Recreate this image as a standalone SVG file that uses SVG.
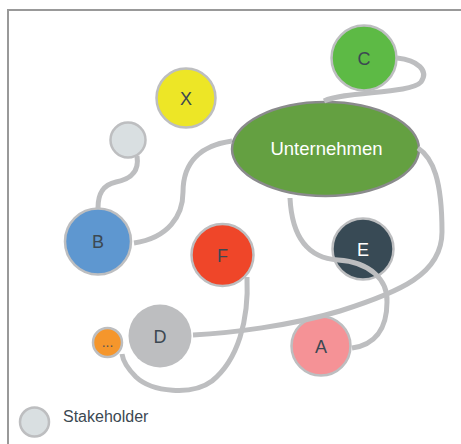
<svg xmlns="http://www.w3.org/2000/svg" width="461" height="444" viewBox="0 0 461 444">
  <style>
    .frame { fill: #ffffff; stroke: #999999; stroke-width: 2; }
    .node { stroke: #bdbec0; stroke-width: 2.5; }
    .label { font-family: "Liberation Sans", Arial, sans-serif; font-size: 18px; fill: #3c4852; text-anchor: middle; }
    .light { fill: #ffffff; }
    .edge { fill: none; stroke: #bdbec0; stroke-width: 5; stroke-linecap: butt; }
    .legend { font-family: "Liberation Sans", Arial, sans-serif; font-size: 16px; fill: #3c4852; }
  </style>

  <rect class="frame" x="8" y="10" width="470" height="460"/>

  <g id="node-C">
    <circle class="node" cx="364" cy="58" r="32.5" fill="#5dba45"/>
    <text class="label" x="364" y="64.5">C</text>
  </g>
  <g id="node-X">
    <circle class="node" cx="186" cy="98" r="29.5" fill="#ede626"/>
    <text class="label" x="186" y="104.5">X</text>
  </g>
  <g id="node-empty">
    <circle class="node" cx="128" cy="140" r="17.5" fill="#d9dfe1"/>
  </g>
  <g id="node-Unternehmen">
    <ellipse cx="325.5" cy="149" rx="93.5" ry="47" fill="#64a041" stroke="#8a8a8c" stroke-width="2.5"/>
    <text class="label light" x="326.5" y="155" style="font-size:18.5px">Unternehmen</text>
  </g>
  <g id="node-B">
    <circle class="node" cx="98" cy="241.5" r="33" fill="#5e97d0"/>
    <text class="label" x="98" y="248">B</text>
  </g>
  <g id="node-F">
    <circle class="node" cx="222.5" cy="255" r="31" fill="#ef4629"/>
    <text class="label" x="222.5" y="261.5">F</text>
  </g>
  <g id="node-E">
    <circle class="node" cx="363" cy="249" r="30.5" fill="#384a55"/>
    <text class="label light" x="363" y="255.5">E</text>
  </g>
  <g id="node-D">
    <circle cx="160" cy="336" r="31.5" fill="#bdbec0"/>
    <text class="label" x="160" y="342.5">D</text>
  </g>
  <g id="node-more">
    <circle class="node" cx="107.5" cy="342.5" r="14.5" fill="#f5962c"/>
    <text class="label" x="107.5" y="347" style="font-size:14px;fill:#555">...</text>
  </g>
  <g id="node-A">
    <circle class="node" cx="321" cy="346" r="29.5" fill="#f59296"/>
    <text class="label" x="321" y="352.5">A</text>
  </g>

  <g id="connectors">
    <path class="edge" d="M 397 58 C 418 60 429 71 421 82 C 411 94 345 91 324 101"/>
    <path class="edge" d="M 137 156 C 140 175 126 180 116 182 C 102 185 98 195 98 208"/>
    <path class="edge" d="M 134 243 C 168 238 183 216 183 192 C 183 160 203 145 232 141"/>
    <path class="edge" d="M 290 198 C 292 238 308 258 338 260 C 370 262 388 280 387 302 C 387 330 374 345 352 348"/>
    <path class="edge" d="M 418 148 C 433 158 442 180 442 232 C 442 274 400 292 340 311 C 290 326 230 333 193 335"/>
    <path class="edge" d="M 247 277 C 249 320 238 360 212 381 C 192 396 152 392 136 377 C 128 369 123 361 122 354"/>
  </g>

  <g id="legend">
    <circle class="node" cx="34.5" cy="422" r="14.5" fill="#d9dfe1"/>
    <text class="legend" x="63" y="422">Stakeholder</text>
  </g>
</svg>
